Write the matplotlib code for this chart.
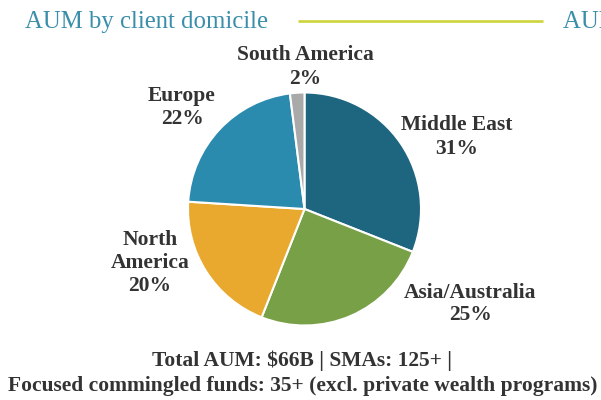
import matplotlib
matplotlib.use("Agg")
import matplotlib.pyplot as plt

regions = ["Middle East", "Asia/Australia", "North America", "Europe", "South America"]
shares = [31, 25, 20, 22, 2]
colors = ["#1e6680", "#78a046", "#e8a92e", "#2a8bae", "#a9a9a9"]
label_text = ["Middle East\n31%", "Asia/Australia\n25%", "North\nAmerica\n20%", "Europe\n22%", "South America\n2%"]
label_pos = [(457, 137), (470, 304), (150, 263), (182, 107), (305, 67)]

plt.rcParams['font.family'] = ['Liberation Serif', 'DejaVu Serif']

fig = plt.figure(figsize=(6.01, 4.00), dpi=100)
ax = fig.add_axes([0, 0, 1, 1])

ax.pie(shares, colors=colors, startangle=90, counterclock=False,
       center=(304.5, 400 - 209), radius=116.5,
       wedgeprops=dict(edgecolor='white', linewidth=1.5))
ax.set_xlim(0, 601)
ax.set_ylim(0, 400)
ax.set_aspect('equal')
ax.axis('off')

for txt, (x, y) in zip(label_text, label_pos):
    ax.text(x, 400 - y, txt, ha='center', va='center', fontsize=15.5,
            fontweight='bold', color='#333333', linespacing=1.2)

# Header
ax.text(25, 400 - 22, "AUM by client domicile", ha='left', va='center',
        fontsize=17.8, color='#3a8eaa')
ax.plot([298, 543], [400 - 20.5, 400 - 20.5], color='#cdd43c', lw=1.9,
        solid_capstyle='butt')
ax.text(563, 400 - 22, "AUM by client type", ha='left', va='center',
        fontsize=17.8, color='#3a8eaa', clip_on=True)

# Footer
ax.text(302, 400 - 361, "Total AUM: $66B | SMAs: 125+ |", ha='center', va='center',
        fontsize=15.5, fontweight='bold', color='#333333')
ax.text(303, 400 - 386, "Focused commingled funds: 35+ (excl. private wealth programs)",
        ha='center', va='center', fontsize=15.5, fontweight='bold', color='#333333')

fig.savefig("out.png", dpi=100)
